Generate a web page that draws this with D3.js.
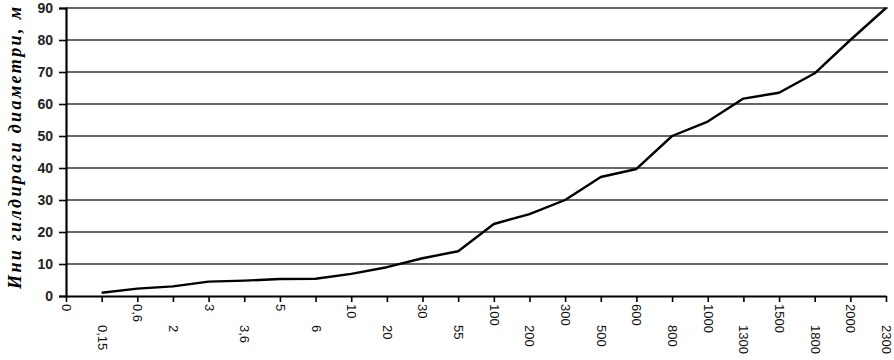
<!DOCTYPE html>
<html>
<head>
<meta charset="utf-8">
<script src="https://cdn.jsdelivr.net/npm/d3@7"></script>
<style>
  body { margin: 0; background: #fff; }
  svg text { font-family: "Liberation Sans", Arial, sans-serif; }
</style>
</head>
<body>
<div id="chart"></div>
<script>
// Категориялар (x ўқи) ва қийматлар
const categories = ['0','0,15','0,6','2','3','3,6','5','6','10','20','30','55','100','200','300','500','600','800','1000','1300','1500','1800','2000','2300'];
const values = [null, 1, 2.3, 3, 4.5, 4.8, 5.3, 5.4, 6.9, 9, 11.8, 14, 22.5, 25.6, 30, 37.2, 39.7, 50, 54.5, 61.7, 63.5, 69.6, 80, 90];
const yTicks = [0, 10, 20, 30, 40, 50, 60, 70, 80, 90];
const yLabel = 'Ини гилдираги диаметри, м';

let margin = {top: 8, right: 8, bottom: 64, left: 66},
    width = 894 - margin.left - margin.right,
    height = 360 - margin.top - margin.bottom;

let svg = d3.select('#chart')
    .append('svg')
      .attr('width', 894)
      .attr('height', 360);

let chart = svg.append('g')
    .attr('transform', 'translate(' + margin.left + ',' + margin.top + ')');

//Eje X
let x = d3.scalePoint()
    .domain(categories)
    .range([0, width]);

//Eje Y
let y = d3.scaleLinear()
    .domain([0, 90])
    .range([height, 0]);

//Grid
chart.append('g')
    .selectAll('line')
    .data(yTicks.filter(d => d > 0))
    .enter()
    .append('line')
      .attr('x1', 0)
      .attr('x2', width + 2)
      .attr('y1', d => y(d))
      .attr('y2', d => y(d))
      .attr('stroke', '#333')
      .attr('stroke-width', 1.7);

let yAxis = chart.append('g')
    .call(d3.axisLeft(y).tickValues(yTicks).tickSize(7).tickPadding(6));
yAxis.select('.domain').attr('stroke-width', 2.2);
yAxis.selectAll('.tick line').attr('stroke-width', 1.6);
yAxis.selectAll('text').attr('font-size', 14).attr('font-weight', 'bold').attr('fill', '#222');

let xAxis = chart.append('g')
    .attr('transform', 'translate(0,' + height + ')')
    .call(d3.axisBottom(x).tickSize(6).tickSizeOuter(0));
xAxis.select('.domain').attr('stroke-width', 2.2);
xAxis.selectAll('.tick line').attr('stroke-width', 1.6);
xAxis.selectAll('text')
    .attr('font-size', 13)
    .attr('fill', '#111')
    .attr('text-anchor', 'start')
    .attr('dy', '0.35em')
    .attr('transform', (d, i) => 'translate(0,' + (i % 2 ? 29 : 8) + ') rotate(90)')
    .attr('x', 0)
    .attr('y', 0);

//Línea
let line = d3.line()
    .defined(d => d.v !== null)
    .x(d => x(d.c))
    .y(d => y(d.v));

chart.append('path')
    .datum(categories.map((c, i) => ({c: c, v: values[i]})))
    .attr('fill', 'none')
    .attr('stroke', '#000')
    .attr('stroke-width', 2.4)
    .attr('stroke-linejoin', 'round')
    .attr('d', line);

//Título eje Y
svg.append('text')
    .attr('transform', 'translate(21,' + (margin.top + 140) + ') rotate(-90)')
    .attr('text-anchor', 'middle')
    .attr('textLength', 282)
    .attr('lengthAdjust', 'spacing')
    .style('font-family', '"Liberation Serif", "Times New Roman", serif')
    .style('font-style', 'italic')
    .style('font-weight', 'bold')
    .attr('font-size', 18)
    .text(yLabel);
</script>
</body>
</html>
